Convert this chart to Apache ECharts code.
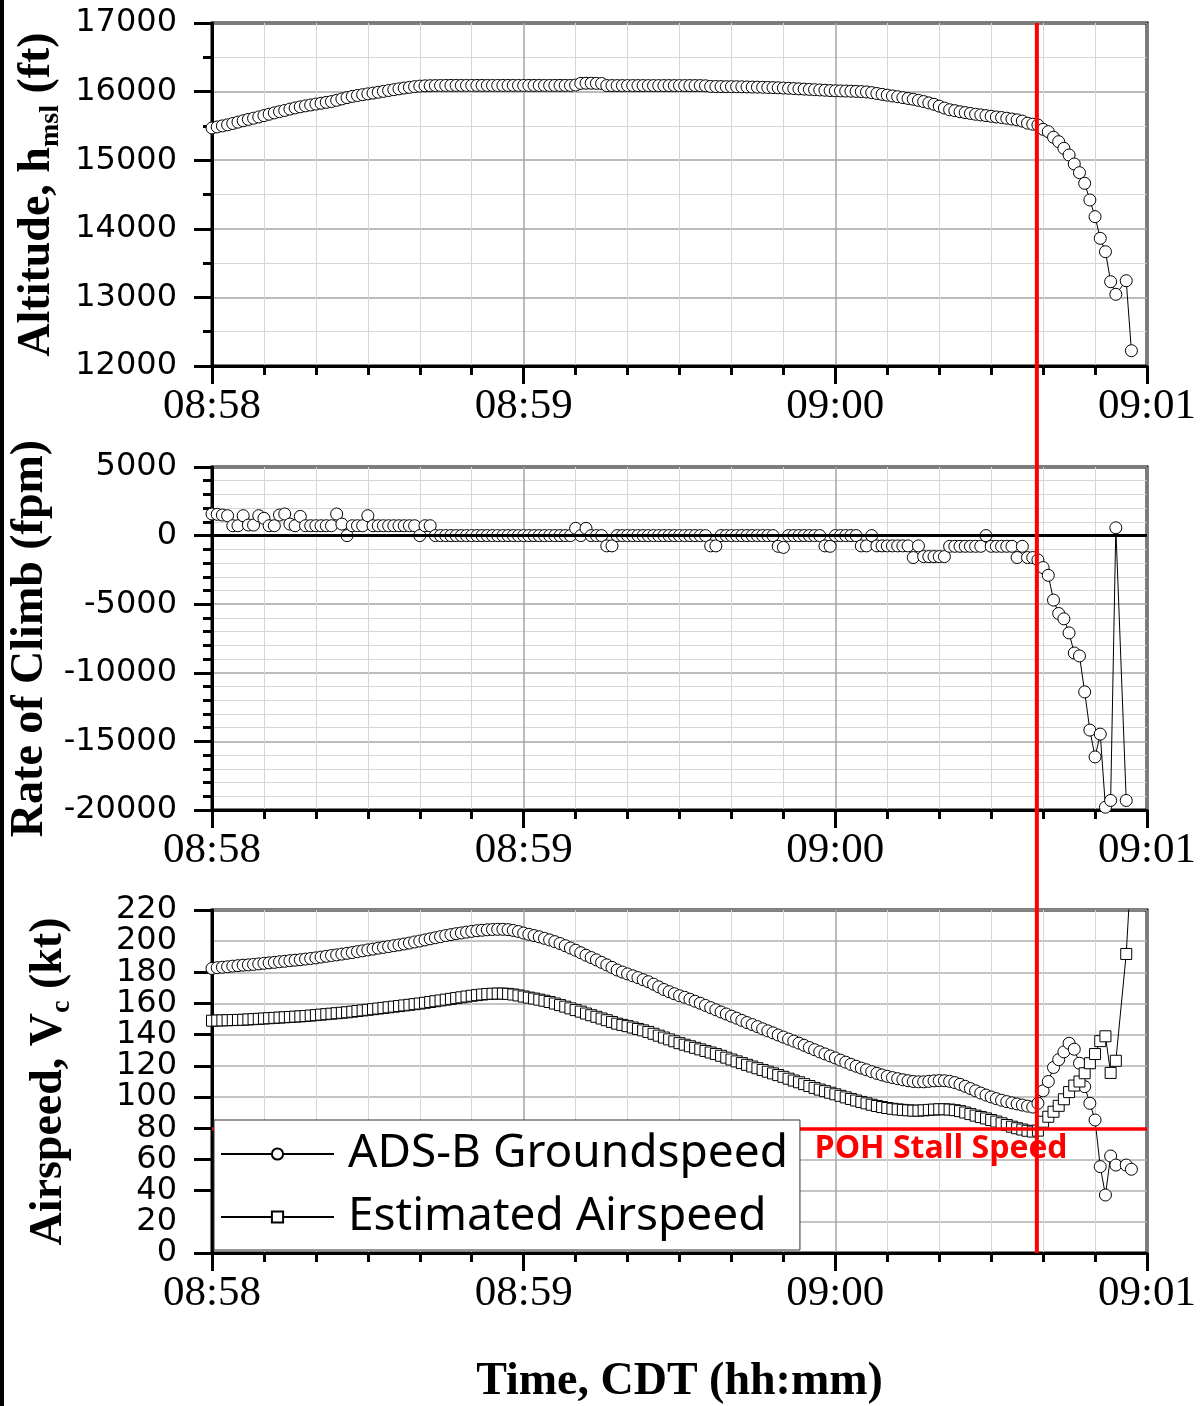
<!DOCTYPE html>
<html><head><meta charset="utf-8">
<script src="https://cdn.jsdelivr.net/npm/echarts@6/dist/echarts.min.js"></script>
<style>html,body{margin:0;padding:0;background:#fff}#c{width:1201px;height:1406px}</style>
</head><body><div id="c"></div>
<script>
// time in seconds after 08:58:00 CDT
const timeSec = [
0,1,2,3,4,5,6,7,8,9,10,11,12,13,14,15,16,17,18,19,
20,21,22,23,24,25,26,27,28,29,30,31,32,33,34,35,36,37,38,39,
40,41,42,43,44,45,46,47,48,49,50,51,52,53,54,55,56,57,58,59,
60,61,62,63,64,65,66,67,68,69,70,71,72,73,74,75,76,77,78,79,
80,81,82,83,84,85,86,87,88,89,90,91,92,93,94,95,96,97,98,99,
100,101,102,103,104,105,106,107,108,109,110,111,112,113,114,115,116,117,118,119,
120,121,122,123,124,125,126,127,128,129,130,131,132,133,134,135,136,137,138,139,
140,141,142,143,144,145,146,147,148,149,150,151,152,153,154,155,156,157,158,
159,160,161,162,163,164,165,166,167,168,169,170,171,172,173,174,176,177];

const altitudeFt = [
15470,15485,15500,15515,15535,15555,15575,15595,15612,15630,
15650,15670,15690,15708,15725,15745,15762,15778,15792,15805,
15818,15830,15843,15855,15873,15893,15912,15930,15943,15955,
15967,15978,15990,16003,16016,16028,16040,16052,16062,16072,
16080,16084,16086,16088,16089,16090,16090,16090,16090,16090,
16090,16090,16090,16090,16090,16090,16090,16090,16090,16090,
16090,16090,16090,16090,16090,16090,16090,16090,16090,16090,
16095,16120,16122,16122,16120,16118,16088,16088,16088,16088,
16088,16088,16088,16088,16088,16088,16088,16088,16088,16088,
16088,16088,16088,16088,16088,16085,16075,16074,16073,16072,
16072,16071,16070,16068,16066,16065,16063,16060,16058,16056,
16052,16048,16044,16040,16036,16032,16028,16024,16020,16015,
16012,16010,16008,16006,16003,16000,15995,15985,15972,15960,
15948,15936,15925,15912,15900,15888,15872,15855,15835,15815,
15788,15760,15735,15722,15706,15694,15682,15670,15660,15650,
15640,15630,15622,15612,15600,15588,15570,15540,15525,
15513,15450,15416,15334,15270,15173,15076,14945,14818,14663,14420,14177,13861,13666,13229,13045,13243,12223];

const rateOfClimbFpm = [
1575,1550,1500,1450,720,720,1450,770,770,1450,
1260,720,720,1500,1575,840,720,1400,720,720,
720,720,720,720,1575,840,0,720,720,720,
1450,720,720,720,720,720,720,720,720,720,
0,720,720,0,0,0,0,0,0,0,
0,0,0,0,0,0,0,0,0,0,
0,0,0,0,0,0,0,0,0,0,
530,0,530,0,0,0,-750,-750,0,0,
0,0,0,0,0,0,0,0,0,0,
0,0,0,0,0,0,-750,-750,0,0,
0,0,0,0,0,0,0,0,0,-780,
-860,0,0,0,0,0,0,0,-750,-780,
0,0,0,0,0,-750,-750,0,-750,-750,
-750,-750,-750,-750,-750,-1600,-750,-1530,-1530,-1530,
-1530,-1530,-780,-780,-780,-780,-780,-780,-780,0,
-780,-780,-780,-780,-780,-1600,-780,-1600,-1600,
-1773,-2330,-2894,-4700,-5678,-6066,-7092,-8557,-8770,-11392,-14176,-16132,-14469,-19795,-19304,571,-19304,null];

const groundspeedKt = [
182.5,183,183.3,183.6,184,184.3,184.6,184.8,185.1,185.4,
185.8,186.1,186.4,186.8,187.1,187.5,187.8,188.1,188.5,188.9,
189.3,189.8,190.3,190.8,191.2,191.7,192.2,192.7,193.3,193.8,
194.4,194.9,195.5,196,196.5,197.1,197.6,198.2,198.8,199.5,
200.1,200.8,201.5,202.2,202.9,203.6,204.2,204.8,205.3,205.8,
206.3,206.7,207,207.3,207.5,207.6,207.6,207.4,206.9,206.2,
205.2,204.4,203.6,202.8,201.8,200.8,199.7,198.5,197.1,195.6,
194.2,192.6,191,189.5,188,186.4,184.8,183.2,181.5,180.2,
179,177.8,176.6,175.3,174,172.4,170.7,169,167.6,166.3,
165,164,162.8,161.5,160.2,158.8,157.4,156,154.6,153.3,
151.9,150.6,149.2,147.8,146.5,145.2,143.8,142.5,141.2,139.8,
138.5,137.2,135.9,134.6,133.2,131.8,130.4,129,127.7,126.4,
125.1,123.7,122.4,121,119.8,118.6,117.5,116.3,115.2,114.2,
113.3,112.5,111.8,111.1,110.5,110,109.8,109.8,110.1,110.4,
110.6,110.5,110.1,109.3,108.2,106.9,105.5,104,102.6,101.3,
100.1,99,98,97.1,96.3,95.6,94.9,94.2,93.6,
96,104,110,119,124,129,134.5,130.7,121.7,106.7,96,85.3,55.4,37.2,62.2,56.4,56.4,53.7];

const airspeedKt = [
149,149.1,149.2,149.3,149.4,149.5,149.6,149.8,150,150.2,
150.4,150.6,150.8,151,151.2,151.4,151.6,151.8,152,152.3,
152.6,152.9,153.2,153.5,153.8,154.1,154.4,154.8,155.2,155.6,
156,156.4,156.8,157.2,157.6,158,158.4,158.8,159.2,159.6,
160,160.5,161,161.5,162,162.5,163,163.5,164,164.5,
165,165.4,165.8,166.1,166.3,166.4,166.4,166.2,165.8,165.2,
164.5,163.8,163.2,162.5,161.8,161,160,159,158,156.9,
155.8,154.8,153.6,152.5,151.5,150.4,149.3,148.2,147.1,146.3,
145.5,144.6,143.7,142.8,141.8,140.6,139.4,138.2,137,135.8,
134.6,133.6,132.6,131.6,130.6,129.6,128.6,127.6,126.5,125.3,
124.1,122.9,121.8,120.7,119.6,118.5,117.4,116.3,115.2,114.1,
113,111.8,110.6,109.5,108.3,107.1,105.9,104.8,103.8,102.8,
101.8,100.8,99.8,98.8,97.8,96.9,96,95.1,94.3,93.6,
93,92.5,92.1,91.8,91.5,91.3,91.3,91.5,91.8,92,
92.2,92.2,92,91.6,91,90.1,89.1,88.1,87.2,86.3,
85.3,84.3,83.2,82.1,81,80,79.2,78.4,77.9,
78.5,84.2,87.4,90.6,94.4,98.6,103.2,107.4,110,115.3,121.7,127.6,135.9,139,115.5,123.3,191.8,250];

const timeTickLabels = ['08:58', '08:59', '09:00', '09:01'];
const stallTimeSec = 158.8;      // red vertical marker
const pohStallSpeedKt = 80;      // POH stall speed line
const stallLabelAt = [116, 67];  // label anchor in data coords (s, kt)

const chart = echarts.init(document.getElementById('c'), null, {renderer: 'canvas'});

const titleFont = {fontFamily: 'Liberation Serif', fontWeight: 'bold', fontSize: 46, color: '#000',
  rich: {
    m: {fontFamily: 'Liberation Serif', fontWeight: 'bold', fontSize: 46, color: '#000'},
    s: {fontFamily: 'Liberation Serif', fontWeight: 'bold', fontSize: 28, color: '#000', padding: [26, 0, 0, 0]}
  }};

const gridBase = {left: 212, width: 935, height: 343, show: true, borderColor: '#000', borderWidth: 3,
  backgroundColor: 'transparent', containLabel: false, outerBoundsMode: 'none'};

const yLabelFont = {fontFamily: 'DejaVu Sans', fontSize: 32, lineHeight: 12, color: '#000'};

function xAx(i, extra) {
  return Object.assign({
    type: 'value', gridIndex: i, min: 0, max: 180, interval: 60,
    axisLine: {show: true, onZero: false, lineStyle: {color: '#000', width: 3}},
    axisTick: {show: true, inside: false, length: 18, lineStyle: {color: '#000', width: 3}},
    minorTick: {show: true, splitNumber: 6, length: 9, lineStyle: {color: '#000', width: 3}},
    splitLine: {show: true, lineStyle: {color: '#a4a4a4', width: 1.5}},
    minorSplitLine: {show: true, lineStyle: {color: '#d6d6d6', width: 1}},
    axisLabel: {show: true, showMinLabel: true, showMaxLabel: true, margin: 19,
      formatter: v => timeTickLabels[Math.round(v / 60)],
      fontFamily: 'Liberation Sans Narrow', fontSize: 43, color: '#000'}
  }, extra || {});
}

function yAx(i, min, max, interval, minorSplit, name) {
  return {
    type: 'value', gridIndex: i, position: 'left', min: min, max: max, interval: interval,
    name: name, nameLocation: 'middle', nameGap: 136, nameTextStyle: titleFont,
    axisLine: {show: true, onZero: false, lineStyle: {color: '#000', width: 3}},
    axisTick: {show: true, inside: false, length: 18, lineStyle: {color: '#000', width: 3}},
    minorTick: {show: minorSplit > 0, splitNumber: minorSplit || 5, length: 9, lineStyle: {color: '#000', width: 3}},
    splitLine: {show: true, lineStyle: {color: minorSplit > 0 ? '#a4a4a4' : '#b0b0b0', width: 1.5}},
    minorSplitLine: {show: minorSplit > 0, lineStyle: {color: '#d6d6d6', width: 1}},
    axisLabel: Object.assign({show: true, showMinLabel: true, showMaxLabel: true, margin: 35,
      formatter: v => String(v), hideOverlap: false}, yLabelFont)
  };
}

// companion axis on the airspeed grid: draws the labels next to min/max that the
// library's min/max-overlap rule would otherwise drop
function yAxNeighbours(i, min, max, interval) {
  return {
    type: 'value', gridIndex: i, position: 'left', offset: 0, min: min, max: max, interval: interval,
    axisLine: {show: false}, axisTick: {show: false}, splitLine: {show: false},
    minorTick: {show: false}, minorSplitLine: {show: false},
    axisLabel: Object.assign({show: true, showMinLabel: false, showMaxLabel: false, margin: 35, hideOverlap: false,
      formatter: v => (v === min + interval || v === max - interval) ? String(v) : ''}, yLabelFont)
  };
}

function pairs(vals) { return timeSec.map((t, i) => [t, vals[i]]); }

const circleStyle = {symbol: 'circle', symbolSize: 12,
  itemStyle: {color: '#fff', borderColor: '#000', borderWidth: 1},
  lineStyle: {color: '#000', width: 1}};
const squareStyle = {symbol: 'rect', symbolSize: 11,
  itemStyle: {color: '#fff', borderColor: '#000', borderWidth: 1},
  lineStyle: {color: '#000', width: 1}};

chart.setOption({
  animation: false,
  backgroundColor: '#fff',
  grid: [
    Object.assign({top: 23}, gridBase),
    Object.assign({top: 467}, gridBase),
    Object.assign({top: 910}, gridBase)
  ],
  xAxis: [xAx(0), xAx(1), xAx(2, {name: 'Time, CDT (hh:mm)', nameLocation: 'middle', nameGap: 106,
    nameTextStyle: {fontFamily: 'Liberation Serif', fontWeight: 'bold', fontSize: 46, color: '#000'}})],
  yAxis: [
    yAx(0, 12000, 17000, 1000, 2, '{m|Altitude, h}{s|msl}{m| (ft)}'),
    yAx(1, -20000, 5000, 5000, 5, 'Rate of Climb (fpm)'),
    yAx(2, 0, 220, 20, 0, '{m|Airspeed, V}{s|c}{m| (kt)}'),
    yAxNeighbours(2, 0, 220, 20)
  ],
  legend: {
    left: 214, top: 1120, orient: 'vertical', selectedMode: false,
    data: ['ADS-B Groundspeed', 'Estimated Airspeed'],
    itemWidth: 113, itemHeight: 14, itemGap: 17,
    padding: [11, 12, 10, 6],
    backgroundColor: '#fff', borderColor: '#333', borderWidth: 1, borderRadius: 0,
    textStyle: {fontFamily: 'Noto Sans', fontSize: 46, color: '#000', padding: [0, 0, 0, 9]},
    z: 10
  },
  series: [
    Object.assign({type: 'line', name: 'Altitude', xAxisIndex: 0, yAxisIndex: 0,
      data: pairs(altitudeFt), clip: true, z: 3}, circleStyle),
    Object.assign({type: 'line', name: 'Rate of Climb', xAxisIndex: 1, yAxisIndex: 1,
      data: pairs(rateOfClimbFpm), clip: true, z: 3,
      markLine: {silent: true, symbol: 'none', animation: false, label: {show: false},
        lineStyle: {color: '#000', width: 3, type: 'solid'}, data: [{yAxis: 0}]}}, circleStyle),
    Object.assign({type: 'line', name: 'ADS-B Groundspeed', xAxisIndex: 2, yAxisIndex: 2,
      data: pairs(groundspeedKt), clip: true, z: 3,
      markLine: {silent: true, symbol: 'none', animation: false, label: {show: false},
        lineStyle: {color: '#ff0000', width: 3.5, type: 'solid'}, data: [{yAxis: pohStallSpeedKt}]}}, circleStyle),
    Object.assign({type: 'line', name: 'Estimated Airspeed', xAxisIndex: 2, yAxisIndex: 2,
      data: pairs(airspeedKt), clip: true, z: 3}, squareStyle)
  ]
});

// annotations positioned from data values through the axes
const xStall = chart.convertToPixel({xAxisIndex: 0}, stallTimeSec);
const yTop = chart.convertToPixel({yAxisIndex: 0}, 17000);
const yBot = chart.convertToPixel({yAxisIndex: 2}, 0);
const lab = chart.convertToPixel({gridIndex: 2}, stallLabelAt);

chart.setOption({
  graphic: [
    {type: 'rect', left: 0, top: 0, shape: {width: 4, height: 1406}, style: {fill: '#000'}, z: 100},
    {type: 'line', shape: {x1: xStall, y1: yTop, x2: xStall, y2: yBot},
      style: {stroke: '#ff0000', lineWidth: 4}, z: 100},
    {type: 'text', x: lab[0], y: lab[1], z: 100,
      style: {text: 'POH Stall Speed', fill: '#ff0000', fontFamily: 'Open Sans', fontWeight: 'bold',
        fontSize: 32, align: 'left', verticalAlign: 'middle'}}
  ]
});
</script>
</body></html>
